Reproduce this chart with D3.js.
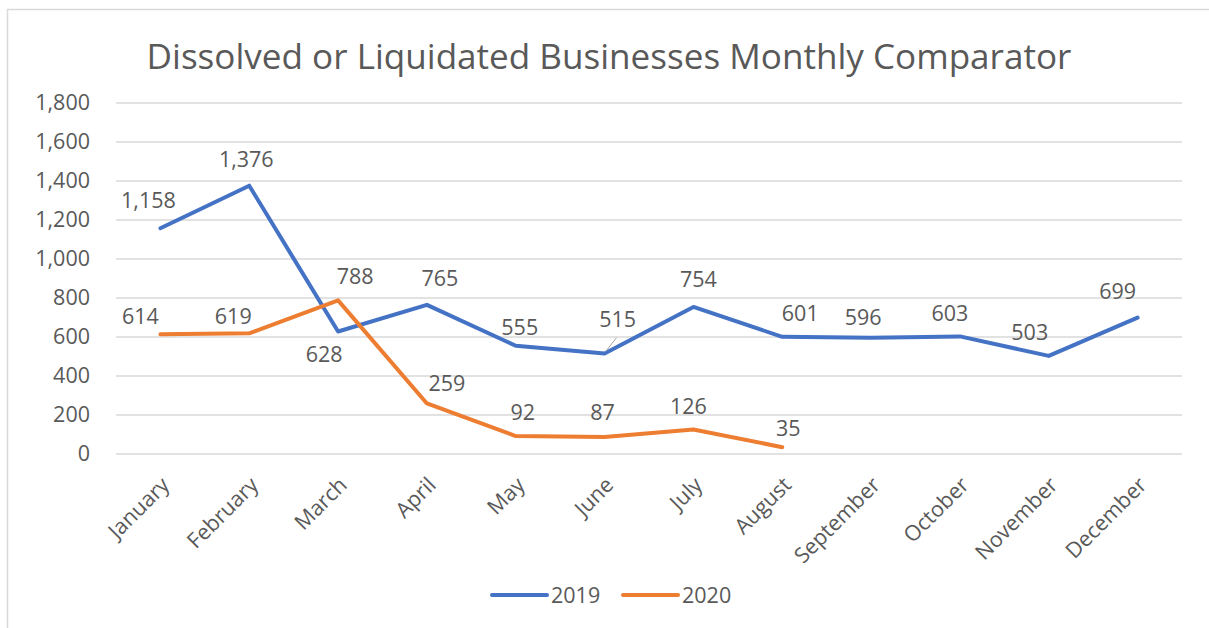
<!DOCTYPE html>
<html>
<head>
<meta charset="utf-8">
<script src="https://cdn.jsdelivr.net/npm/d3@7"></script>
<style>
  body { margin: 0; background: #fff; }
  svg { display: block; font-family: "Open Sans", "Noto Sans", sans-serif; }
</style>
</head>
<body>
<div id="chart"></div>
<script>
const months = ['January', 'February', 'March', 'April', 'May', 'June', 'July',
  'August', 'September', 'October', 'November', 'December'];
const values2019 = [1158, 1376, 628, 765, 555, 515, 754, 601, 596, 603, 503, 699];
const values2020 = [614, 619, 788, 259, 92, 87, 126, 35];
const yTicks = [0, 200, 400, 600, 800, 1000, 1200, 1400, 1600, 1800];
const seriesNames = ['2019', '2020'];

// label nudges (px) to mimic excel's auto placement
const labelNudge2019 = [[-12, -28], [-3, -26], [-14, 23], [13, -26], [4, -18], [13, -34], [5, -27], [18, -23], [-8, -20], [-10, -23], [-19, -23], [-20, -26]];
const labelNudge2020 = [[-20, -18], [-16, -17], [17, -24], [20, -20], [7, -24], [-2, -25], [-5, -23], [6, -19]];

const width = 1209, height = 628;
const margin = {top: 103, right: 27, bottom: 174, left: 116};
const blue = '#4472C4', orange = '#ED7D31', txt = '#595959', grid = '#D9D9D9';
const fs = 21.5;

const svg = d3.select('#chart').append('svg')
  .attr('width', width)
  .attr('height', height);

// chart area border (only top/left visible in the crop)
svg.append('path')
  .attr('d', `M7.5,${height} V9.5 H${width}`)
  .attr('fill', 'none')
  .attr('stroke', grid)
  .attr('stroke-width', 1.5);

const x = d3.scaleBand()
  .domain(months)
  .range([margin.left, width - margin.right]);

const y = d3.scaleLinear()
  .domain([0, 1800])
  .range([height - margin.bottom, margin.top]);

const cx = (i) => x(months[i]) + x.bandwidth() / 2;

// title
const title = svg.append('text')
  .attr('x', 609)
  .attr('y', 69)
  .attr('text-anchor', 'middle')
  .attr('fill', txt)
  .attr('font-size', 34)
  .text('Dissolved or Liquidated Businesses Monthly Comparator');
const tw = title.node().getComputedTextLength();
title.attr('font-size', 34 * 925 / tw);

// gridlines
svg.append('g')
  .selectAll('line')
  .data(yTicks)
  .join('line')
    .attr('x1', margin.left)
    .attr('x2', width - margin.right)
    .attr('y1', d => y(d))
    .attr('y2', d => y(d))
    .attr('stroke', grid)
    .attr('stroke-width', 1.5);

// y axis labels
const yAxis = svg.append('g')
  .attr('transform', `translate(${margin.left - 26},0)`)
  .call(d3.axisLeft(y).tickValues(yTicks).tickFormat(d3.format(',')).tickSize(0).tickPadding(0));
yAxis.select('.domain').remove();
yAxis.selectAll('text')
  .attr('fill', txt)
  .attr('font-size', fs)
  .attr('font-family', '"Open Sans", sans-serif');

// x axis labels
const xAxis = svg.append('g');
xAxis.selectAll('text')
  .data(months)
  .join('text')
    .attr('transform', d => `translate(${x(d) + x.bandwidth() / 2 + 5},${height - margin.bottom + 27}) rotate(-45)`)
    .attr('text-anchor', 'end')
    .attr('dy', '0.35em')
    .attr('fill', txt)
    .attr('font-size', fs)
    .text(d => d);

const line = d3.line()
  .x((d, i) => cx(i))
  .y(d => y(d));

function drawSeries(values, color, nudges) {
  svg.append('path')
    .datum(values)
    .attr('fill', 'none')
    .attr('stroke', color)
    .attr('stroke-width', 4)
    .attr('stroke-linejoin', 'round')
    .attr('stroke-linecap', 'round')
    .attr('d', line);

  svg.append('g')
    .selectAll('text')
    .data(values)
    .join('text')
      .attr('x', (d, i) => cx(i) + nudges[i][0])
      .attr('y', (d, i) => y(d) + nudges[i][1])
      .attr('dy', '0.35em')
      .attr('text-anchor', 'middle')
      .attr('fill', txt)
      .attr('font-size', fs)
      .text(d => d3.format(',')(d));
}

drawSeries(values2019, blue, labelNudge2019);
drawSeries(values2020, orange, labelNudge2020);

// leader line for June 2019 label
svg.append('line')
  .attr('x1', cx(5) + 1)
  .attr('y1', y(values2019[5]) - 2)
  .attr('x2', cx(5) + 12)
  .attr('y2', y(values2019[5]) - 16)
  .attr('stroke', '#A6A6A6')
  .attr('stroke-width', 1);

// legend
const legend = svg.append('g').attr('transform', 'translate(492,595)');
const legendItems = legend.selectAll('g')
  .data(seriesNames)
  .join('g')
    .attr('transform', (d, i) => `translate(${i * 131},0)`);
legendItems.append('line')
  .attr('x1', 0).attr('x2', 55)
  .attr('stroke', (d, i) => i === 0 ? blue : orange)
  .attr('stroke-width', 4)
  .attr('stroke-linecap', 'round');
legendItems.append('text')
  .attr('x', 59)
  .attr('dy', '0.35em')
  .attr('fill', txt)
  .attr('font-size', fs)
  .text(d => d);
</script>
</body>
</html>
